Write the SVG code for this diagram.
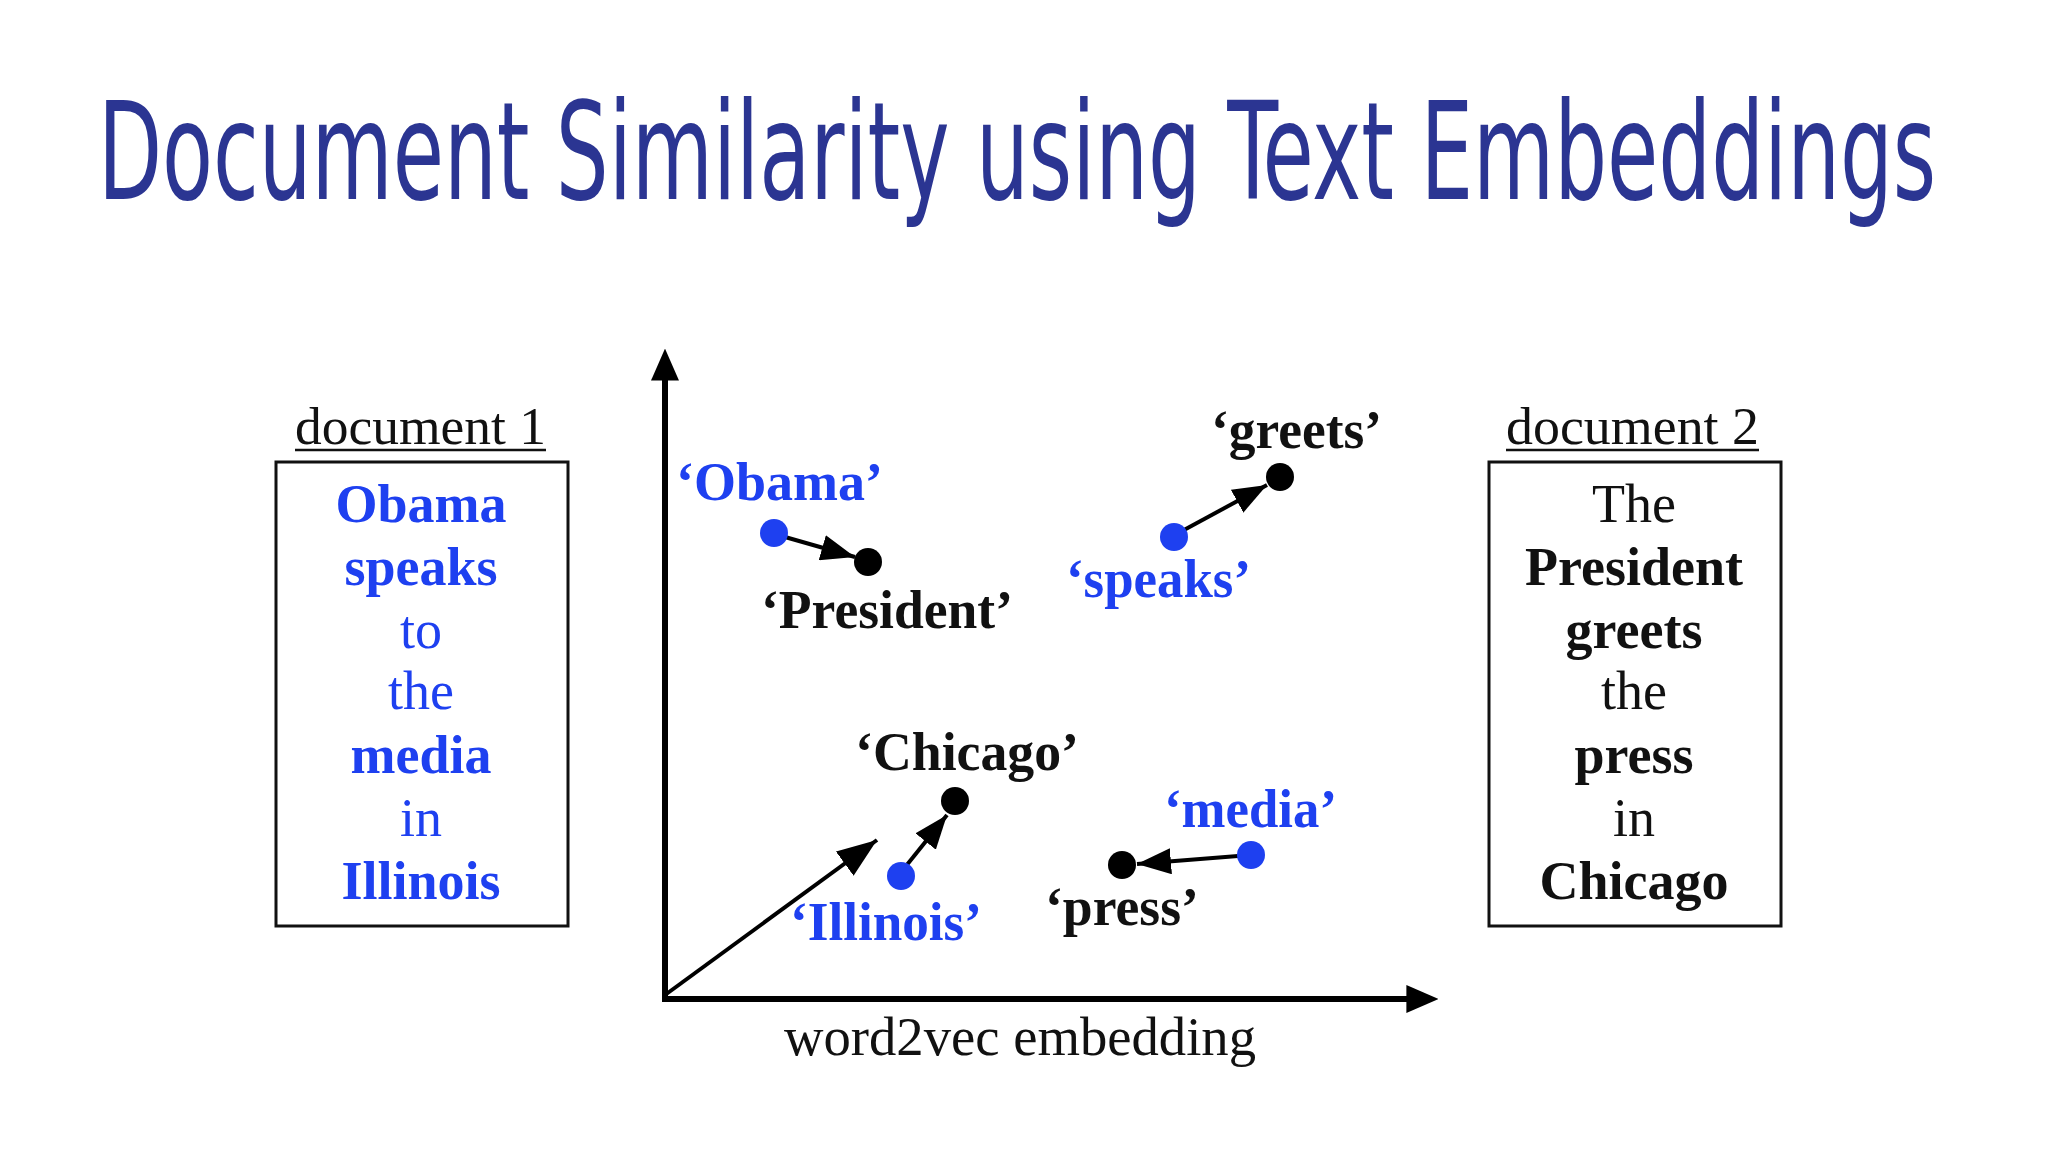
<svg xmlns="http://www.w3.org/2000/svg" width="2048" height="1152" viewBox="0 0 2048 1152">
<defs>
<style>
.title{font-family:"DejaVu Sans Condensed","DejaVu Sans",sans-serif;font-size:136px;fill:#2b3592}
.serif{font-family:"Liberation Serif","Times New Roman",serif;}
.doc{font-size:54px;text-anchor:middle}
.hd{font-size:52px;fill:#111}
.lbl{font-size:54px;font-weight:bold}
.blue{fill:#1e40f0}
.blk{fill:#111}
.b{font-weight:bold}
.box{fill:none;stroke:#111;stroke-width:3}
.ax{stroke:#000;stroke-width:6;fill:none}
.vec{stroke:#000;stroke-width:4;fill:none}
</style>
<marker id="axh" viewBox="0 0 10 10" refX="3" refY="5" markerWidth="32" markerHeight="28" markerUnits="userSpaceOnUse" orient="auto" preserveAspectRatio="none">
<path d="M0,0 L10,5 L0,10 z" fill="#000"/>
</marker>
<marker id="vh" viewBox="0 0 10 10" refX="10" refY="5" markerWidth="34" markerHeight="26" markerUnits="userSpaceOnUse" orient="auto" preserveAspectRatio="none">
<path d="M0,0 L10,5 L0,10 z" fill="#000"/>
</marker>
<marker id="dh" viewBox="0 0 10 10" refX="10" refY="5" markerWidth="40" markerHeight="30" markerUnits="userSpaceOnUse" orient="auto" preserveAspectRatio="none">
<path d="M0,0 L10,5 L0,10 z" fill="#000"/>
</marker>
</defs>
<rect width="2048" height="1152" fill="#fff"/>
<text class="title" transform="scale(0.62,1)" x="158" y="199" textLength="2965" lengthAdjust="spacingAndGlyphs">Document Similarity using Text Embeddings</text>

<g id="doc1">
<text class="serif hd" x="295" y="444" textLength="251" lengthAdjust="spacingAndGlyphs">document 1</text>
<line x1="295" y1="450" x2="546" y2="450" stroke="#111" stroke-width="2.5"/>
<rect class="box" x="276" y="462" width="292" height="464"/>
<g class="serif doc blue">
<text x="421" y="522" class="b">Obama</text>
<text x="421" y="585" class="b">speaks</text>
<text x="421" y="648">to</text>
<text x="421" y="709">the</text>
<text x="421" y="773" class="b">media</text>
<text x="421" y="836">in</text>
<text x="421" y="899" class="b">Illinois</text>
</g>
</g>

<g id="doc2">
<text class="serif hd" x="1506" y="444" textLength="253" lengthAdjust="spacingAndGlyphs">document 2</text>
<line x1="1506" y1="450" x2="1759" y2="450" stroke="#111" stroke-width="2.5"/>
<rect class="box" x="1489" y="462" width="292" height="464"/>
<g class="serif doc blk">
<text x="1634" y="522">The</text>
<text x="1634" y="585" class="b">President</text>
<text x="1634" y="648" class="b">greets</text>
<text x="1634" y="709">the</text>
<text x="1634" y="773" class="b">press</text>
<text x="1634" y="836">in</text>
<text x="1634" y="899" class="b">Chicago</text>
</g>
</g>

<g id="axes">
<line class="ax" x1="665" y1="1002" x2="665" y2="371" marker-end="url(#axh)"/>
<line class="ax" x1="662" y1="999" x2="1416" y2="999" marker-end="url(#axh)"/>
<text class="serif" x="784" y="1055" font-size="55" fill="#111" textLength="472" lengthAdjust="spacingAndGlyphs">word2vec embedding</text>
</g>

<g id="connectors">
<line class="vec" x1="665" y1="995" x2="877" y2="840" stroke-width="5" marker-end="url(#dh)"/>
<line class="vec" x1="785" y1="537" x2="855" y2="557" marker-end="url(#vh)"/>
<line class="vec" x1="1184" y1="530" x2="1267" y2="485" marker-end="url(#vh)"/>
<line class="vec" x1="906" y1="866" x2="947" y2="815" marker-end="url(#vh)"/>
<line class="vec" x1="1238" y1="856" x2="1137" y2="864" marker-end="url(#vh)"/>
</g>

<g id="obama"><circle cx="774" cy="533" r="14" class="blue"/><text class="serif lbl blue" x="676" y="500" textLength="207" lengthAdjust="spacingAndGlyphs">‘Obama’</text></g>
<g id="president"><circle cx="868" cy="562" r="14" fill="#000"/><text class="serif lbl blk" x="761" y="628" textLength="252" lengthAdjust="spacingAndGlyphs">‘President’</text></g>
<g id="greets"><circle cx="1280" cy="477" r="14" fill="#000"/><text class="serif lbl blk" x="1211" y="448" textLength="171" lengthAdjust="spacingAndGlyphs">‘greets’</text></g>
<g id="speaks"><circle cx="1174" cy="537" r="14" class="blue"/><text class="serif lbl blue" x="1066" y="597" textLength="185" lengthAdjust="spacingAndGlyphs">‘speaks’</text></g>
<g id="chicago"><circle cx="955" cy="801" r="14" fill="#000"/><text class="serif lbl blk" x="855" y="770" textLength="224" lengthAdjust="spacingAndGlyphs">‘Chicago’</text></g>
<g id="illinois"><circle cx="901" cy="876" r="14" class="blue"/><text class="serif lbl blue" x="790" y="940" textLength="192" lengthAdjust="spacingAndGlyphs">‘Illinois’</text></g>
<g id="media"><circle cx="1251" cy="855" r="14" class="blue"/><text class="serif lbl blue" x="1164" y="827" textLength="173" lengthAdjust="spacingAndGlyphs">‘media’</text></g>
<g id="press"><circle cx="1122" cy="865" r="14" fill="#000"/><text class="serif lbl blk" x="1045" y="925" textLength="154" lengthAdjust="spacingAndGlyphs">‘press’</text></g>
</svg>
